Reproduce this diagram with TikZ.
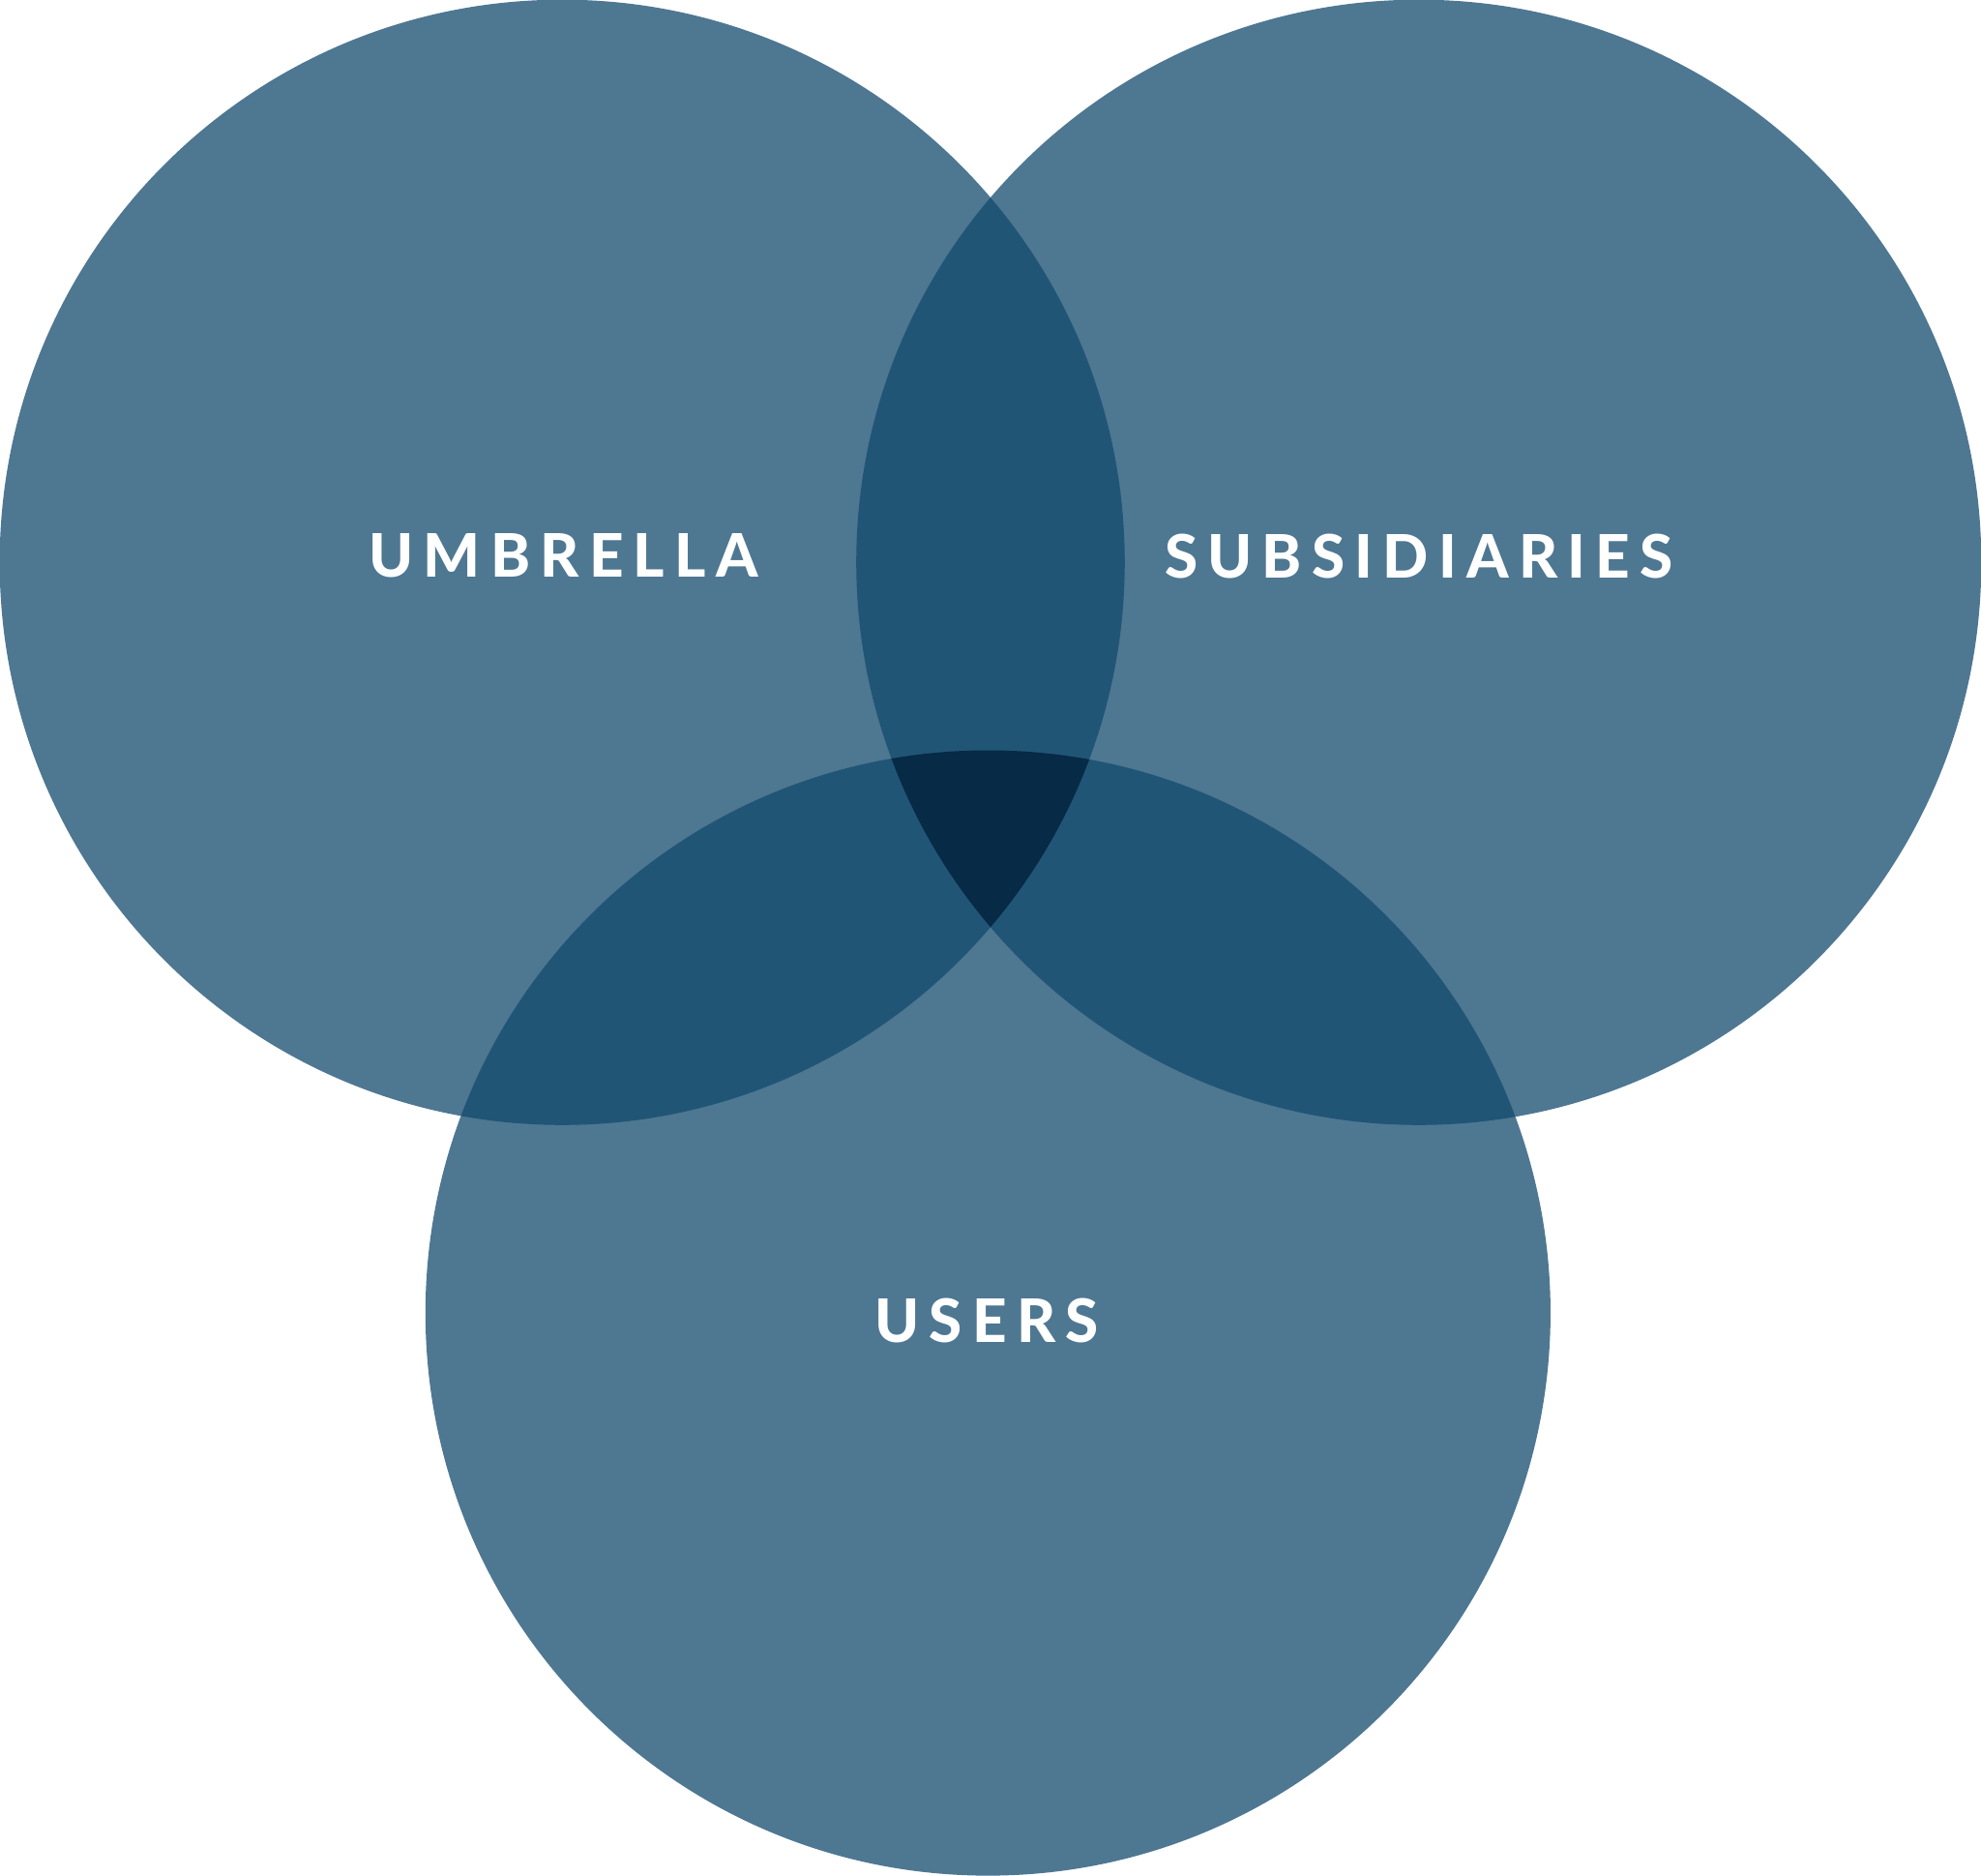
\documentclass[tikz,border=0pt]{standalone}
\usepackage{fontspec}
\newfontfamily\vennfont[LetterSpace=16.5,BoldFont={Lato Heavy}]{Lato}
\definecolor{vennone}{HTML}{4E7792}
\definecolor{venntwo}{HTML}{215576}
\definecolor{vennthree}{HTML}{072A46}

\begin{document}
\begin{tikzpicture}[x=0.01cm,y=-0.01cm,
    one/.style={fill=vennone}, two/.style={fill=venntwo}, three/.style={fill=vennthree},
    set label/.style={text=white,inner sep=0pt,font=\vennfont\bfseries\fontsize{13.5}{16}\selectfont}]
  \useasboundingbox (0,0) rectangle (1568,1484);

  \coordinate (umbrella) at (445,445);
  \coordinate (subsidiaries) at (1123,445);
  \coordinate (users) at (782,1039);

  % single sets
  \fill[one] (umbrella) circle (4.45cm);
  \fill[one] (subsidiaries) circle (4.45cm);
  \fill[one] (users) circle (4.45cm);

  % pairwise overlaps
  \begin{scope}
    \clip (umbrella) circle (4.45cm);
    \fill[two] (subsidiaries) circle (4.45cm);
    \fill[two] (users) circle (4.45cm);
  \end{scope}
  \begin{scope}
    \clip (subsidiaries) circle (4.45cm);
    \fill[two] (users) circle (4.45cm);
  \end{scope}

  % all three
  \begin{scope}
    \clip (umbrella) circle (4.45cm);
    \clip (subsidiaries) circle (4.45cm);
    \fill[three] (users) circle (4.45cm);
  \end{scope}

  \node[set label] (umb) at (446,440) {UMBRELLA};
  \node[set label] (sub) at (1123,440) {SUBSIDIARIES};
  \node[set label] (usr) at (781,1045) {USERS};
\end{tikzpicture}
\end{document}
